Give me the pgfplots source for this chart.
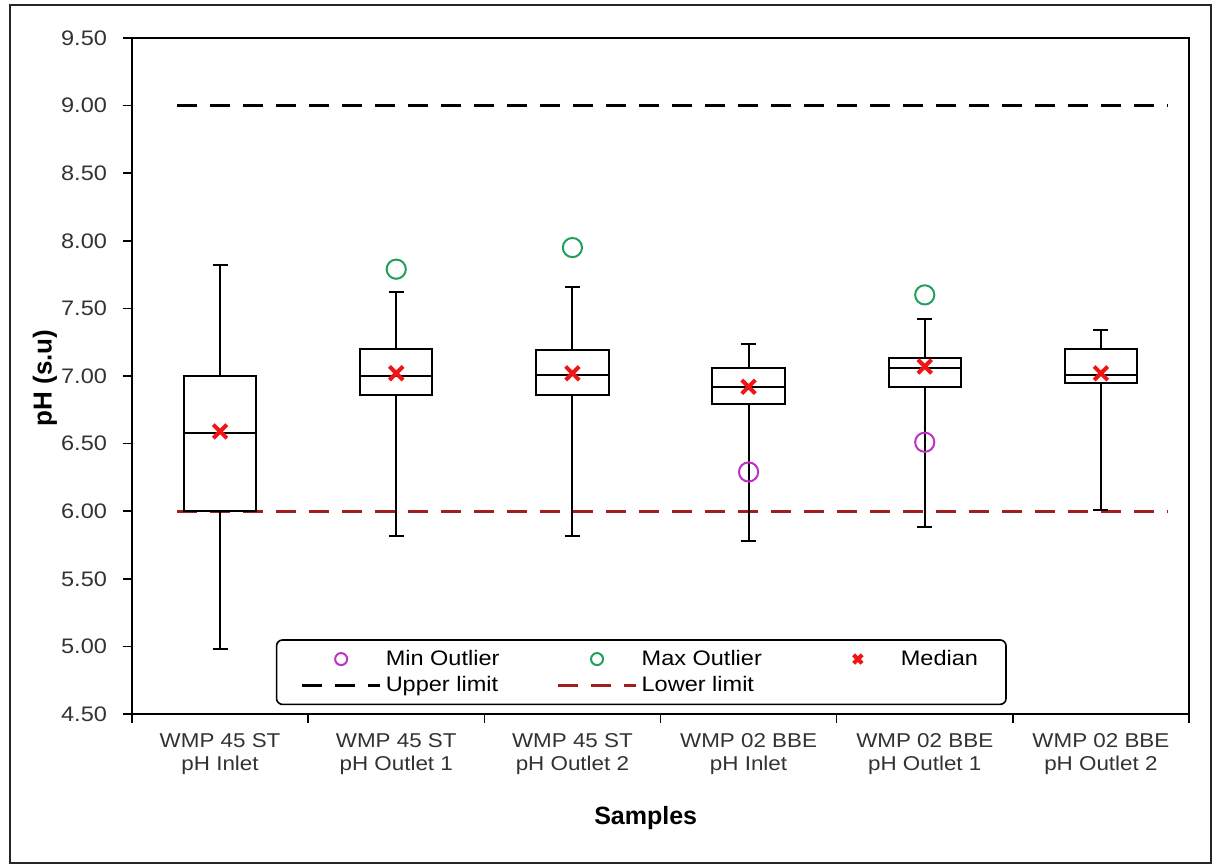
\documentclass[border=0pt]{standalone}
\usepackage{fontspec}
\setmainfont{Liberation Sans}[FakeStretch=1.12]
\newfontfamily\titlefont{Liberation Sans}
\usepackage{pgfplots}
\pgfplotsset{compat=1.18}
\usepgfplotslibrary{statistics}

\definecolor{minc}{RGB}{190,50,200}
\definecolor{maxc}{RGB}{30,160,90}
\definecolor{medc}{RGB}{240,20,20}
\definecolor{lowc}{RGB}{160,30,30}
\definecolor{tickc}{RGB}{50,50,50}

\begin{document}
\begin{tikzpicture}
\path[use as bounding box] (0,0) rectangle (606pt,-432.5pt);
\draw[line width=1pt, black!85] (5pt,-2.5pt) rectangle (605.5pt,-431.5pt);
\begin{axis}[
  at={(66pt,-19pt)}, anchor=north west,
  scale only axis, width=528.5pt, height=338pt,
  xmin=-0.5, xmax=5.5, ymin=4.5, ymax=9.5,
  axis line style={line width=1pt},
  tick align=outside, tick pos=left,
  major tick length=0pt, minor tick length=4.5pt,
  tick style={black, line width=0.8pt},
  xtick={0,1,2,3,4,5},
  xticklabels={{WMP 45 ST\\pH Inlet},{WMP 45 ST\\pH Outlet 1},{WMP 45 ST\\pH Outlet 2},{WMP 02 BBE\\pH Inlet},{WMP 02 BBE\\pH Outlet 1},{WMP 02 BBE\\pH Outlet 2}},
  minor xtick={-0.5,0.5,1.5,2.5,3.5,4.5,5.5},
  ytick={4.5,5.0,5.5,6.0,6.5,7.0,7.5,8.0,8.5,9.0,9.5},
  minor ytick={4.5,5.0,5.5,6.0,6.5,7.0,7.5,8.0,8.5,9.0,9.5},
  /pgf/number format/fixed, /pgf/number format/fixed zerofill,
  /pgf/number format/precision=2, /pgf/number format/assume math mode=true,
  xticklabel style={font=\fontsize{10}{11.5}\selectfont, align=center, text=tickc, yshift=-6pt},
  yticklabel style={font=\fontsize{10.5}{12}\selectfont, text=tickc, xshift=-9pt},
  xlabel={Samples},
  xlabel style={at={(axis description cs:0.486,-0.164)}, anchor=base, font={\titlefont\bfseries\fontsize{12.5}{15}\selectfont}},
  ylabel={pH (s.u)},
  ylabel style={at={(axis description cs:-0.0823,0.497)}, anchor=center, font={\titlefont\bfseries\fontsize{13}{15}\selectfont}},
  boxplot/draw direction=y,
  boxplot/box extend=0.41, boxplot/whisker extend=0.085,
  legend columns=3,
  legend cell align=left,
  legend style={at={(0.136,0.013)}, anchor=south west, draw=black, line width=0.8pt, rounded corners=3pt, font=\fontsize{10.5}{12}\selectfont, inner xsep=12pt, inner ysep=3pt, /tikz/every even column/.append style={column sep=26.5pt}},
  legend image code/.code={\node[draw=none, fill=none, inner sep=0pt, outer sep=0pt, minimum width=39pt, minimum height=2pt, anchor=center] at (19.5pt,0pt) {}; \draw[mark repeat=2, mark phase=2, #1] plot coordinates {(0pt,0pt) (19.5pt,0pt) (39pt,0pt)};},
  legend image post style={mark size=3pt},
]
% lower limit drawn first (behind the boxes); legend entry added later
\addplot[lowc, line width=1.6pt, dash pattern=on 10pt off 6.5pt, forget plot] coordinates {(-0.245,6) (5.38,6)};

\addplot[black, line width=1pt, solid, forget plot, boxplot prepared={draw position=0, lower whisker=4.98, lower quartile=6.00, median=6.58, upper quartile=7.00, upper whisker=7.82}] coordinates {};
\addplot[black, line width=1pt, solid, forget plot, boxplot prepared={draw position=1, lower whisker=5.82, lower quartile=6.86, median=7.00, upper quartile=7.20, upper whisker=7.62}] coordinates {};
\addplot[black, line width=1pt, solid, forget plot, boxplot prepared={draw position=2, lower whisker=5.82, lower quartile=6.86, median=7.01, upper quartile=7.19, upper whisker=7.66}] coordinates {};
\addplot[black, line width=1pt, solid, forget plot, boxplot prepared={draw position=3, lower whisker=5.78, lower quartile=6.79, median=6.92, upper quartile=7.06, upper whisker=7.24}] coordinates {};
\addplot[black, line width=1pt, solid, forget plot, boxplot prepared={draw position=4, lower whisker=5.88, lower quartile=6.92, median=7.06, upper quartile=7.13, upper whisker=7.42}] coordinates {};
\addplot[black, line width=1pt, solid, forget plot, boxplot prepared={draw position=5, lower whisker=6.01, lower quartile=6.95, median=7.01, upper quartile=7.20, upper whisker=7.34}] coordinates {};

\addplot[only marks, mark=o, mark size=4.8pt, color=minc, line width=1pt] coordinates {(3,6.29) (4,6.51)};
\addlegendentry{Min Outlier}
\addplot[only marks, mark=o, mark size=4.8pt, color=maxc, line width=1pt] coordinates {(1,7.79) (2,7.95) (4,7.60)};
\addlegendentry{Max Outlier}
\addplot[only marks, mark=x, mark size=4.8pt, color=medc, line width=2pt] coordinates {(0,6.59) (1,7.02) (2,7.02) (3,6.92) (4,7.07) (5,7.02)};
\addlegendentry{Median}
\addplot[black, line width=1.6pt, dash pattern=on 10pt off 6.5pt] coordinates {(-0.245,9) (5.38,9)};
\addlegendentry{Upper limit}
\addlegendimage{lowc, line width=1.6pt, dash pattern=on 10pt off 6.5pt}
\addlegendentry{Lower limit}
\end{axis}
\end{tikzpicture}
\end{document}
